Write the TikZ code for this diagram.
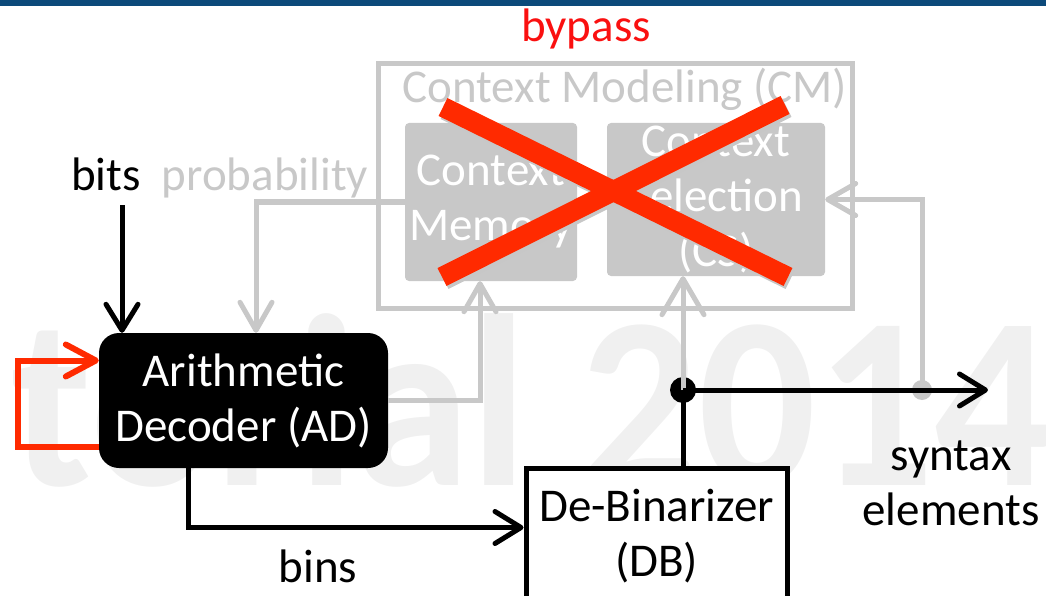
\documentclass[tikz,border=0pt]{standalone}
\usepackage{fontspec}
\setmainfont{Carlito}
\usepackage{graphicx}
\usetikzlibrary{arrows.meta}
\definecolor{cmgray}{RGB}{200,200,200}
\definecolor{xred}{RGB}{255,42,0}
\definecolor{bypred}{RGB}{250,16,16}
\definecolor{barblue}{RGB}{12,74,122}
\definecolor{wmgray}{RGB}{240,240,240}

\begin{document}
\begin{tikzpicture}[x=1pt,y=-1pt,
  txt/.style={font=\fontsize{47}{55}\selectfont,inner sep=0pt,align=center},
  gbox/.style={txt,fill=cmgray,text=white,rounded corners=4pt},
  blkline/.style={line width=5pt,black},
  blkarr/.style={blkline,-{Straight Barb[round,length=26pt,width=32pt]}},
  garr/.style={line width=5pt,cmgray,-{Straight Barb[round,length=28pt,width=32pt]}},
  rarr/.style={line width=6pt,xred,-{Straight Barb[round,length=30pt,width=32pt]}},
  xline/.style={line width=20pt,xred},
  dot/.style={circle,fill,inner sep=0pt,minimum size=#1}]
  \useasboundingbox (0,0) rectangle (1046,596);
  % watermark and title bar
  \node[anchor=base east,inner sep=0pt,text=wmgray,font=\fontsize{245}{245}\selectfont\bfseries] (wm) at (1052,485) {\scalebox{0.95}[1]{torial 2014}};
  \fill[barblue] (0,0) rectangle (1046,6);
  % context modeling
  \node[draw=cmgray,line width=5pt,inner sep=0pt,minimum width=474pt,minimum height=244pt] (cm) at (615,186) {};
  \node[txt,text=cmgray,anchor=base] (cmt) at (625,103) {Context Modeling (CM)};
  \node[gbox,minimum width=172pt,minimum height=158pt] (mem) at (491,202) {Context\\Memory};
  \node[gbox,minimum width=218pt,minimum height=153pt] (sel) at (716,199.5) {Context\\Selection\\(CS)};
  \draw[line width=20pt,black!22] (445,110) -- (790,280);
  \draw[line width=20pt,black!22] (444,280) -- (787,108);
  \draw[xline] (443,107) -- (788,277);
  \draw[xline] (442,277) -- (785,105);
  \node[txt,text=bypred,anchor=base] (bypass) at (586,42) {bypass};
  % decoder blocks
  \node[txt,fill=black,text=white,rounded corners=20pt,minimum width=289pt,minimum height=135pt] (ad) at (243.5,400.5) {Arithmetic\\Decoder (AD)};
  \node[txt,draw=black,line width=5pt,fill=white,minimum width=261pt,minimum height=137pt] (db) at (656.5,536.5) {De-Binarizer\\(DB)};
  \node[txt,anchor=base] (bits) at (106,190) {bits};
  \node[txt,anchor=base,text=cmgray] (prob) at (265,190) {probability};
  \node[txt,anchor=base] (bins) at (318,582) {bins};
  \node[txt] (synt) at (951,483) {syntax\\elements};
  % connectors
  \coordinate (bitsin) at (122,205);
  \draw[blkarr] (bitsin) -- (bitsin |- ad.north);
  \draw[garr] (mem.west) -| ([xshift=12.5pt]ad.north);
  \draw[garr] (ad.east) -| ([xshift=-11pt]mem.south);
  \draw[rarr] ([yshift=-46pt]ad.west) -- ++(-81,0) |- ([yshift=40pt]ad.west);
  \draw[blkarr] ([xshift=-55pt]ad.south) |- ([yshift=9pt]db.west);
  \node[dot=20pt,cmgray] (tap) at (922,390) {};
  \draw[garr] (tap.center) |- (sel.east);
  \node[dot=26pt,black] (jn) at (683,390) {};
  \draw[blkline] (jn.center) -- (jn |- db.north);
  \draw[garr,-{Straight Barb[round,length=36pt,width=42pt]}] (jn.center) -- (jn |- sel.south);
  \coordinate (seout) at (988,390);
  \draw[blkarr] (jn.center) -- (seout);
\end{tikzpicture}
\end{document}
